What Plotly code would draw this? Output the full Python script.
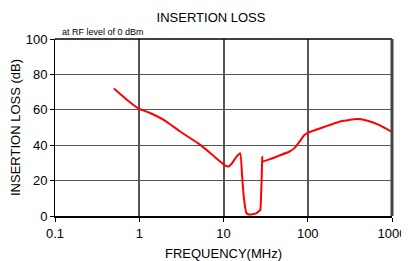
import plotly.graph_objects as go

freq_mhz = [0.5, 0.7, 1.0, 1.3, 1.6, 2.0, 3.0, 5.0, 7.0, 9.0, 10.5, 11.5, 12.5, 14.0, 15.8,
            16.6, 17.4, 18.6, 19.5, 22.0, 24.5, 26.0, 27.3, 28.0, 28.5, 28.8, 29.0,
            35.0, 45.0, 60.0, 70.0, 80.0, 90.0, 100.0, 150.0, 250.0, 380.0, 500.0, 700.0, 1000.0]
loss_db = [72, 66, 60.5, 58.5, 56.5, 54, 48, 41, 35.5, 31, 28.5, 28, 29.5, 33, 35.4,
           23, 11, 2, 1, 1, 1.5, 2.5, 3.4, 13, 24, 33.5, 30.8,
           32, 34, 36.3, 38.5, 42, 45.5, 47, 50, 53.5, 54.8, 54, 51.5, 47.5]

x_ticks = [0.1, 1, 10, 100, 1000]
x_tick_labels = ["0.1", "1", "10", "100", "1000"]
y_ticks = [0, 20, 40, 60, 80, 100]

font_family = "Liberation Sans, Arial, sans-serif"

W, H = 401, 253

fig = go.Figure()
fig.add_trace(go.Scatter(x=freq_mhz, y=loss_db, mode="lines",
                         line=dict(color="#ff0000", width=2, shape="spline", smoothing=0.4),
                         hoverinfo="skip", showlegend=False))

fig.update_layout(
    width=W, height=H,
    margin=dict(l=47, r=17, t=31, b=45, autoexpand=False),
    paper_bgcolor="white", plot_bgcolor="white",
    font=dict(family=font_family, size=13, color="black"),
    title=dict(text="INSERTION LOSS", x=203/W, xanchor="center", y=1-9/H, yanchor="middle",
               font=dict(size=13, family=font_family), automargin=False),
    xaxis=dict(type="log", range=[-1, 3], tickvals=x_ticks, ticktext=x_tick_labels,
               showgrid=True, gridcolor="#555555", gridwidth=1.5, automargin=False,
               showline=True, linecolor="black", linewidth=2, mirror=False,
               ticks="outside", ticklen=4, tickcolor="black",
               title=dict(text="FREQUENCY(MHz)", font=dict(size=13), standoff=12),
               tickfont=dict(size=13)),
    yaxis=dict(range=[0, 100], tickvals=y_ticks, automargin=False,
               showgrid=True, gridcolor="#555555", gridwidth=1.2,
               showline=True, linecolor="black", linewidth=1, mirror=False,
               ticks="outside", ticklen=4, tickcolor="black", zeroline=False,
               title=dict(text="INSERTION LOSS (dB)", font=dict(size=13), standoff=6),
               tickfont=dict(size=13)),
    annotations=[dict(text="at RF level of 0 dBm", xref="paper", yref="paper",
                      x=5/337, y=1.0, xanchor="left", yanchor="bottom", showarrow=False,
                      font=dict(size=9, family=font_family))],
    shapes=[
        dict(type="line", xref="paper", yref="paper", x0=0, x1=1, y0=1, y1=1,
             line=dict(color="black", width=1.5)),
        dict(type="line", xref="paper", yref="paper", x0=1, x1=1, y0=0, y1=1,
             line=dict(color="#444444", width=3)),
    ],
)

fig.write_html("out.html")
